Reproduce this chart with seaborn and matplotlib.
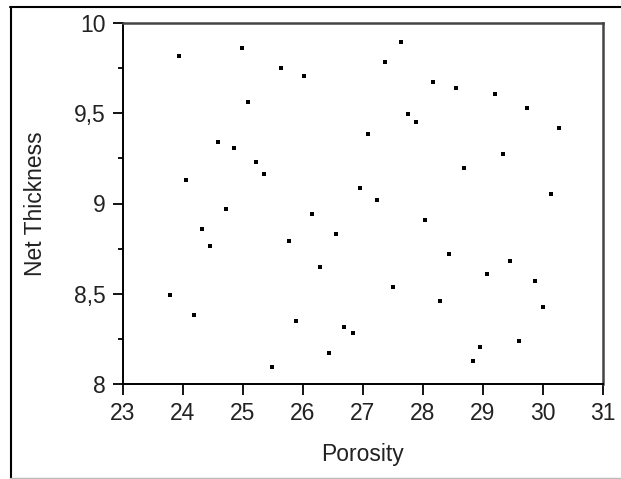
import numpy as np
import pandas as pd
import matplotlib
matplotlib.use("Agg")
import matplotlib.pyplot as plt
import seaborn as sns
from matplotlib.lines import Line2D
from matplotlib.ticker import FixedLocator, FixedFormatter, MultipleLocator

# ----------------------------- #
#  Data
# ----------------------------- #
porosity = [
    23.93, 24.99, 25.63, 26.02, 25.09, 24.59, 24.86, 25.22, 25.36, 24.06,
    24.72, 26.16, 24.32, 25.77, 24.46, 23.79, 24.19, 25.89, 25.49,
    27.63, 27.37, 28.17, 28.56, 29.20, 29.73, 27.76, 27.89, 30.27, 27.09,
    29.33, 28.69, 26.96, 30.13, 27.23, 28.03, 26.55,
    26.29, 28.43, 29.46, 29.07, 29.87, 27.50, 28.29, 30.00, 26.69, 26.83,
    29.60, 28.96, 26.43, 28.83,
]
net_thickness = [
    9.820, 9.865, 9.752, 9.707, 9.563, 9.340, 9.309, 9.229, 9.163, 9.130,
    8.972, 8.940, 8.861, 8.790, 8.763, 8.494, 8.383, 8.350, 8.094,
    9.898, 9.785, 9.674, 9.640, 9.607, 9.530, 9.496, 9.452, 9.418, 9.385,
    9.274, 9.196, 9.085, 9.052, 9.018, 8.907, 8.828,
    8.650, 8.717, 8.683, 8.606, 8.572, 8.539, 8.461, 8.428, 8.317, 8.283,
    8.239, 8.206, 8.172, 8.128,
]
x_ticks = [23, 24, 25, 26, 27, 28, 29, 30, 31]
y_ticks = [8, 8.5, 9, 9.5, 10]
y_tick_labels = ['8', '8,5', '9', '9,5', '10']

df = pd.DataFrame({'Porosity': porosity, 'Net Thickness': net_thickness})

# ----------------------------- #
#  Plot
# ----------------------------- #
sns.set_style('white')
plt.rcParams['font.family'] = ['Liberation Sans', 'DejaVu Sans']

fig = plt.figure(figsize=(6.21, 4.79), dpi=100)
ax = fig.add_axes([122.7 / 621, 1 - 383.7 / 479, 480 / 621, 360.4 / 479])

sns.scatterplot(data=df, x='Porosity', y='Net Thickness', ax=ax,
                marker='s', s=7, color='black', linewidth=0)

ax.set_xlim(23, 31)
ax.set_ylim(8, 10)
ax.xaxis.set_major_locator(FixedLocator(x_ticks))
ax.yaxis.set_major_locator(FixedLocator(y_ticks))
ax.yaxis.set_major_formatter(FixedFormatter(y_tick_labels))
ax.yaxis.set_minor_locator(MultipleLocator(0.25))

ax.tick_params(axis='x', which='major', direction='out', length=8,
               width=1.3, color='black', labelsize=16.5, pad=5,
               labelcolor='#222222')
ax.tick_params(axis='y', which='major', direction='out', length=7.5,
               width=1.3, color='black', labelsize=16.5, pad=5,
               labelcolor='#222222')
ax.tick_params(axis='y', which='minor', direction='out', length=3.5,
               width=1.3, color='black', left=True)
ax.tick_params(bottom=True, left=True, top=False, right=False)

for side in ['left', 'bottom']:
    ax.spines[side].set_color('black')
    ax.spines[side].set_linewidth(1.4)
for side in ['top', 'right']:
    ax.spines[side].set_color('#444444')
    ax.spines[side].set_linewidth(1.8)

ax.set_xlabel('Porosity', fontsize=16.5, labelpad=13, color='#222222')
ax.set_ylabel('Net Thickness', fontsize=16.5, labelpad=19, color='#222222')

# outer frame
fig.add_artist(Line2D([10 / 621, 1], [1 - 7 / 479, 1 - 7 / 479],
                      transform=fig.transFigure, color='black', lw=1.5))
fig.add_artist(Line2D([10.5 / 621, 10.5 / 621], [0, 1 - 7 / 479],
                      transform=fig.transFigure, color='black', lw=1.5))
fig.add_artist(Line2D([10 / 621, 1], [1.5 / 479, 1.5 / 479],
                      transform=fig.transFigure, color='#bbbbbb', lw=1))

fig.savefig('out.png', dpi=100)
